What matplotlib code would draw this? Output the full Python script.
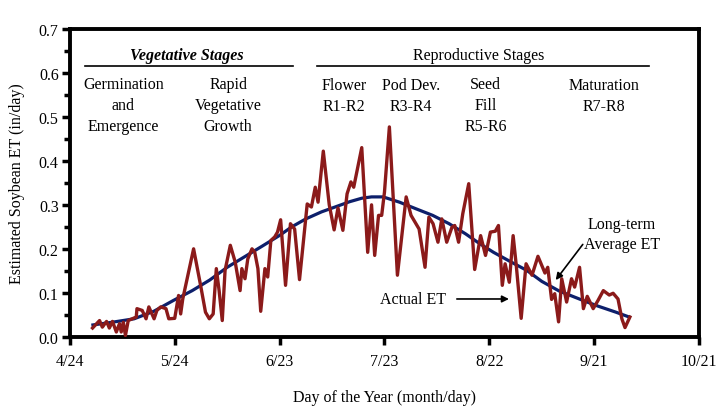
import matplotlib
matplotlib.use("Agg")
import matplotlib.pyplot as plt
from matplotlib.ticker import MultipleLocator

plt.rcParams['font.family'] = ['Liberation Serif', 'DejaVu Serif']

# days since 4/24 and daily ET (in/day)
actual_days = [6.5, 8.5, 9.3, 10.5, 11.3, 12.2, 13.3, 14.2, 14.7, 15.3, 15.9, 16.7,
               19.0, 19.2, 20.7, 21.8, 22.6, 24.1, 24.9, 26.0, 27.5, 28.3, 30.0,
               31.1, 31.7, 32.3, 35.4, 37.4, 38.8, 39.9, 41.0, 41.9, 42.7, 43.6,
               44.4, 45.9, 47.3, 48.7, 49.2, 50.1, 50.9, 52.1, 52.9, 53.8, 54.6,
               55.8, 56.6, 57.5, 58.6, 59.4, 60.3, 61.7, 63.1, 64.3, 65.7, 67.9,
               69.1, 70.2, 71.0, 72.5, 74.2, 75.6, 76.7, 78.1, 79.3, 80.4, 81.2,
               83.5, 85.2, 86.3, 87.2, 88.3, 89.2, 90.0, 91.4, 93.7, 96.2, 97.6,
               99.9, 101.6, 102.7, 103.9, 105.3, 106.4, 107.8, 109.3, 110.1, 111.2,
               112.4, 114.1, 115.8, 117.5, 118.9, 120.3, 121.7, 122.6, 123.7, 124.5,
               125.7, 126.8, 127.7, 129.1, 130.5, 132.2, 133.9, 135.9, 136.7, 137.8,
               138.7, 139.8, 140.7, 142.1, 143.5, 144.4, 145.8, 146.9, 148.0, 149.7,
               151.1, 152.6, 154.3, 155.4, 156.8, 157.9, 158.8, 160.2]
actual_et = [0.020, 0.037, 0.022, 0.035, 0.020, 0.035, 0.011, 0.030, 0.011, 0.033, 0.003, 0.037,
             0.045, 0.064, 0.060, 0.041, 0.068, 0.041, 0.060, 0.068, 0.064, 0.041, 0.042,
             0.094, 0.052, 0.086, 0.200, 0.117, 0.056, 0.041, 0.052, 0.155, 0.105, 0.037,
             0.151, 0.208, 0.170, 0.105, 0.155, 0.132, 0.177, 0.200, 0.192, 0.155, 0.058,
             0.155, 0.136, 0.219, 0.227, 0.238, 0.266, 0.117, 0.257, 0.245, 0.130, 0.302,
             0.295, 0.340, 0.306, 0.422, 0.300, 0.243, 0.293, 0.242, 0.325, 0.352, 0.340,
             0.430, 0.192, 0.300, 0.185, 0.276, 0.276, 0.329, 0.477, 0.140, 0.318, 0.276,
             0.245, 0.158, 0.272, 0.257, 0.215, 0.268, 0.215, 0.249, 0.253, 0.215,
             0.280, 0.348, 0.153, 0.230, 0.185, 0.238, 0.240, 0.253, 0.117, 0.166,
             0.124, 0.230, 0.162, 0.042, 0.166, 0.140, 0.183, 0.145, 0.158, 0.085,
             0.098, 0.034, 0.132, 0.079, 0.132, 0.113, 0.158, 0.064, 0.092, 0.064,
             0.083, 0.105, 0.095, 0.099, 0.086, 0.041, 0.021, 0.045]

avg_days = [6.6, 12, 18.4, 24, 29.7, 35, 40, 45, 50, 55, 59.9, 63.5, 67.5, 72, 76.9,
            80, 83.5, 86.3, 89.6, 94.3, 99, 103.8, 108.5, 113.2, 117, 121.2, 126,
            130.7, 135, 140, 146.7, 151, 156.2, 160]
avg_et = [0.027, 0.033, 0.041, 0.058, 0.083, 0.105, 0.129, 0.158, 0.182, 0.206, 0.230,
          0.250, 0.268, 0.284, 0.298, 0.307, 0.315, 0.318, 0.318, 0.306, 0.291, 0.276,
          0.257, 0.234, 0.213, 0.192, 0.171, 0.151, 0.126, 0.104, 0.083, 0.070, 0.056,
          0.045]

tick_days = [0, 30, 60, 90, 120, 150, 180]
tick_labels = ['4/24', '5/24', '6/23', '7/23', '8/22', '9/21', '10/21']

fig = plt.figure(figsize=(7.2, 4.14), dpi=100)
ax = fig.add_axes([0.097, 0.184, 0.874, 0.744])

ax.plot(avg_days, avg_et, color='#0d1f6b', lw=2.3, zorder=2)
ax.plot(actual_days, actual_et, color='#8b1a1a', lw=2.4, zorder=3)

ax.set_xlim(0, 180)
ax.set_ylim(0, 0.7)
ax.set_xticks(tick_days)
ax.set_xticklabels(tick_labels)
ax.yaxis.set_major_locator(MultipleLocator(0.1))
ax.yaxis.set_minor_locator(MultipleLocator(0.05))
ax.yaxis.set_major_formatter(matplotlib.ticker.FormatStrFormatter('%.1f'))
ax.tick_params(axis='both', which='major', direction='out', length=6, width=2.5,
               labelsize=11.5, pad=6)
ax.tick_params(axis='y', which='minor', direction='out', length=4, width=2.5)
ax.tick_params(axis='y', pad=2)
for s in ax.spines.values():
    s.set_linewidth(2.8)

ax.set_xlabel('Day of the Year (month/day)', fontsize=11.5, labelpad=14)
ax.set_ylabel('Estimated Soybean ET (in/day)', fontsize=11.5, labelpad=10)

fs = 11.5
ls = 1.45
ax.text(33.4, 0.641, 'Vegetative Stages', ha='center', va='center', fontsize=fs,
        fontweight='bold', fontstyle='italic')
ax.plot([4.2, 63.7], [0.616, 0.616], color='black', lw=1.2)
ax.text(116.9, 0.641, 'Reproductive Stages', ha='center', va='center', fontsize=fs)
ax.plot([70.8, 165.6], [0.616, 0.616], color='black', lw=1.2)

ax.text(15.3, 0.527, 'Germination\nand\nEmergence', ha='center', va='center',
        fontsize=fs, linespacing=ls)
ax.text(45.3, 0.527, 'Rapid\nVegetative\nGrowth', ha='center', va='center',
        fontsize=fs, linespacing=ls)
ax.text(78.4, 0.549, 'Flower\nR1-R2', ha='center', va='center', fontsize=fs, linespacing=ls)
ax.text(97.6, 0.549, 'Pod Dev.\nR3-R4', ha='center', va='center', fontsize=fs, linespacing=ls)
ax.text(118.9, 0.527, 'Seed\nFill\nR5-R6', ha='center', va='center', fontsize=fs,
        linespacing=ls)
ax.text(152.8, 0.549, 'Maturation\nR7-R8', ha='center', va='center', fontsize=fs,
        linespacing=ls)

ax.text(157.9, 0.234, 'Long-term\nAverage ET', ha='center', va='center', fontsize=fs,
        linespacing=1.3)
ax.annotate('', xy=(138.5, 0.124), xytext=(147.2, 0.215),
            arrowprops=dict(arrowstyle='-|>', color='black', lw=1.2, mutation_scale=10))
ax.text(107.5, 0.086, 'Actual ET', ha='right', va='center', fontsize=fs)
ax.annotate('', xy=(126.4, 0.086), xytext=(109.9, 0.086),
            arrowprops=dict(arrowstyle='-|>', color='black', lw=1.2, mutation_scale=10))

fig.savefig('out.png', dpi=100)
